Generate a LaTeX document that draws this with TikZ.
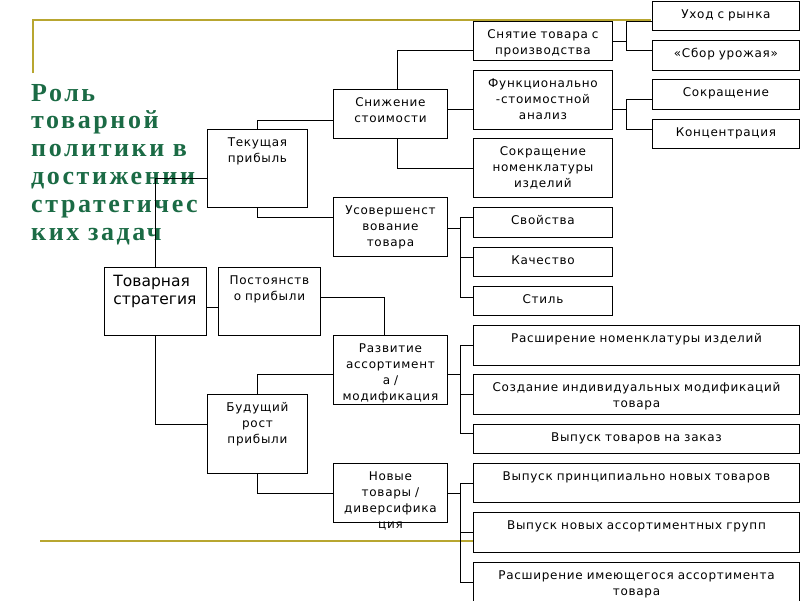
\documentclass[tikz,border=0pt]{standalone}
\usepackage{fontspec}
\newfontfamily\boxfont[LetterSpace=6]{DejaVu Sans}
\newfontfamily\stratfont{DejaVu Sans}
\newfontfamily\titlefont[LetterSpace=10]{Liberation Serif}
\definecolor{titlegreen}{HTML}{1B6B45}
\definecolor{rulegold}{HTML}{B8A630}

\tikzset{
  blk/.style 2 args={draw, line width=0.9pt, fill=white, anchor=north west,
    inner sep=0pt, minimum width=#1pt, minimum height=#2pt},
  txt/.style={anchor=base, yshift=-17.5pt, inner sep=0pt, text width=#1pt,
    align=center, font=\boxfont\fontsize{12}{16}\selectfont},
  link/.style={line width=0.9pt},
  rule/.style={rulegold, line width=2.5pt}
}

\begin{document}
\begin{tikzpicture}[x=1pt, y=-1pt]
  \fill[white] (0,0) rectangle (800,600);
  \useasboundingbox (0,0) rectangle (800,600);

  % title and rules
  \node[anchor=base west, inner sep=0pt, text width=200pt, align=left,
    text=titlegreen, font=\titlefont\bfseries\fontsize{26}{27.8}\selectfont] (title) at (31,101)
    {Роль\\товарной\\политики в\\достижении\\стратегичес\\ких задач};
  \draw[rule] (33,73) -- (33,20) -- (651,20);
  \draw[rule] (40,541) -- (473,541);

  % left part
  \node[blk={102}{68}, label={[anchor=base, yshift=-19pt, inner sep=0pt, text width=84pt,
    align=left, font=\stratfont\fontsize{15.5}{18}\selectfont]north:Товарная\\стратегия}] (strat) at (104,267) {};
  \node[blk={100}{78}, label={[txt=94]north:Текущая\\прибыль}] (tek) at (207,129) {};
  \node[blk={102}{68}, label={[txt=100]north:Постоянств\\о прибыли}] (post) at (218,267) {};
  \node[blk={100}{79}, label={[txt=94]north:Будущий\\рост\\прибыли}] (bud) at (207,394) {};

  % middle column
  \node[blk={114}{49}, label={[txt=110]north:Снижение\\стоимости}] (snizh) at (333,89) {};
  \node[blk={114}{59}, label={[txt=112]north:Усовершенст\\вование\\товара}] (usov) at (333,197) {};
  \node[blk={114}{69}, label={[txt=112]north:Развитие\\ассортимент\\а /\\модификация}] (razv) at (333,335) {};
  \node[blk={114}{59}, label={[txt=112]north:Новые\\товары /\\диверсифика\\ция}] (nov) at (333,463) {};

  % right columns
  \node[blk={139}{39}, label={[txt=135]north:Снятие товара с\\производства}] (snyat) at (473,21) {};
  \node[blk={139}{59}, label={[txt=135]north:Функционально\\-стоимостной\\анализ}] (func) at (473,70) {};
  \node[blk={139}{59}, label={[txt=135]north:Сокращение\\номенклатуры\\изделий}] (sokrnom) at (473,138) {};
  \node[blk={139}{30}, label={[txt=135]north:Свойства}] (svoi) at (473,207) {};
  \node[blk={139}{29}, label={[txt=135]north:Качество}] (kach) at (473,247) {};
  \node[blk={139}{29}, label={[txt=135]north:Стиль}] (stil) at (473,286) {};

  \node[blk={147}{29}, label={[txt=143]north:Уход с рынка}] (uhod) at (652,1) {};
  \node[blk={147}{30}, label={[txt=143]north:«Сбор урожая»}] (sbor) at (652,40) {};
  \node[blk={147}{30}, label={[txt=143]north:Сокращение}] (sokr) at (652,79) {};
  \node[blk={147}{29}, label={[txt=143]north:Концентрация}] (konc) at (652,119) {};

  \node[blk={326}{40}, label={[txt=320]north:Расширение номенклатуры изделий}] (rasnom) at (473,325) {};
  \node[blk={326}{40}, label={[txt=320]north:Создание индивидуальных модификаций\\товара}] (sozd) at (473,374) {};
  \node[blk={326}{29}, label={[txt=320]north:Выпуск товаров на заказ}] (zakaz) at (473,424) {};
  \node[blk={326}{39}, label={[txt=320]north:Выпуск принципиально новых товаров}] (princ) at (473,463) {};
  \node[blk={326}{40}, label={[txt=320]north:Выпуск новых ассортиментных групп}] (grupp) at (473,512) {};
  \node[blk={326}{40}, label={[txt=320]north:Расширение имеющегося ассортимента\\товара}] (rasim) at (473,562) {};

  % connectors
  \draw[link] (strat.north) |- ([yshift=-10pt]tek.west);
  \draw[link] (tek.north) |- ([yshift=-6pt]snizh.west);
  \draw[link] (tek.south) |- ([yshift=9.5pt]usov.west);
  \draw[link] ([yshift=-6pt]strat.east) -- ([yshift=-6pt]strat.east -| post.west);
  \draw[link] ([yshift=4pt]post.east) -| ([xshift=-6pt]razv.north);
  \draw[link] (strat.south) |- ([yshift=9.5pt]bud.west);
  \draw[link] (bud.north) |- ([yshift=-4.5pt]razv.west);
  \draw[link] (bud.south) |- (nov.west);
  \draw[link] ([xshift=7pt]snizh.north) |- ([yshift=-9.5pt]snyat.west);
  \draw[link] ([yshift=4.5pt]snizh.east) -- ([yshift=4.5pt]snizh.east -| func.west);
  \draw[link] ([xshift=7pt]snizh.south) |- (sokrnom.west);

  \draw[link] (snyat.east) -- ++(14,0) coordinate (b1);
  \draw[link] ([yshift=-5.5pt]uhod.west) -| (b1) |- ([yshift=5pt]sbor.west);
  \draw[link] ([yshift=-9.5pt]func.east) -- ++(14,0) coordinate (b2);
  \draw[link] ([yshift=-5pt]sokr.west) -| (b2) |- ([yshift=4.5pt]konc.west);

  \draw[link] ([yshift=-1.5pt]usov.east) -- ++(13,0) coordinate (b3);
  \draw[link] ([yshift=5pt]svoi.west) -| (b3) |- ([yshift=3.5pt]stil.west);
  \draw[link] ([yshift=4.5pt]kach.west) -- ([yshift=4.5pt]kach.west -| b3);

  \draw[link] ([yshift=-4.5pt]razv.east) -- ++(13,0) coordinate (b4);
  \draw[link] (rasnom.west) -| (b4) |- ([yshift=5.5pt]zakaz.west);
  \draw[link] (sozd.west) -- (sozd.west -| b4);

  \draw[link] (nov.east) -- ++(13,0) coordinate (b5);
  \draw[link] (princ.west) -| (b5) |- (rasim.west);
  \draw[link] (grupp.west) -- (grupp.west -| b5);
\end{tikzpicture}
\end{document}
